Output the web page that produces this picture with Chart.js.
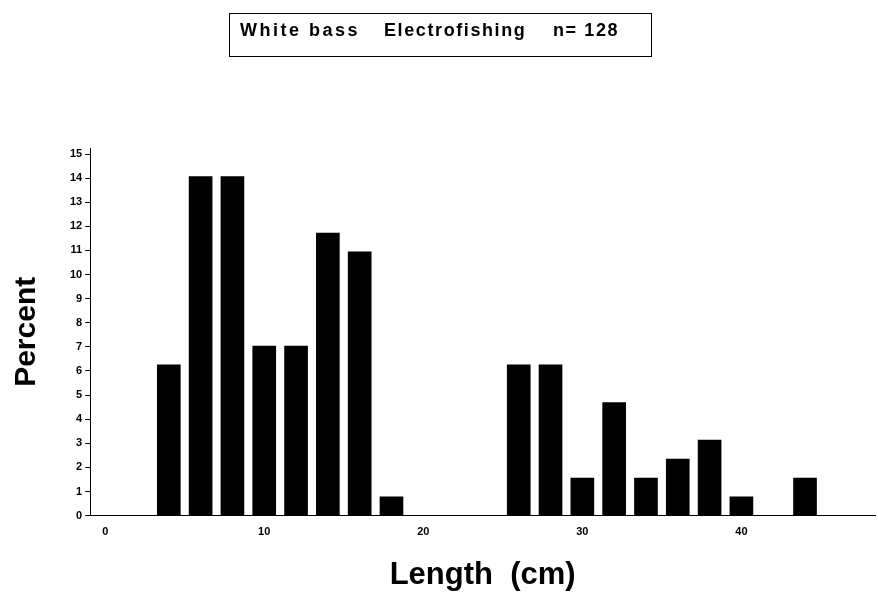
<!DOCTYPE html>
<html>
<head>
<meta charset="utf-8">
<script src="https://cdn.jsdelivr.net/npm/chart.js@4"></script>
<style>
  body { margin: 0; background: #fff; }
  #wrap { position: relative; width: 878px; height: 594px; }
  #heading {
    position: absolute; left: 229px; top: 13px; width: 421px; height: 42px;
    border: 1px solid #000; color: #000;
    font: bold 18px "Liberation Sans", Arial, sans-serif;
  }
  #heading span { position: absolute; top: 6px; white-space: nowrap; letter-spacing: 1.6px; }
</style>
</head>
<body>
<div id="wrap">
  <canvas id="lengthChart" width="878" height="594"></canvas>
  <div id="heading"><span style="left:10px; letter-spacing:2.5px">White bass</span><span style="left:154px">Electrofishing</span><span style="left:323px">n= 128</span></div>
</div>
<script>
// length classes (cm) and percent of catch
const lengths = [4, 6, 8, 10, 12, 14, 16, 18, 20, 22, 24, 26, 28, 30, 32, 34, 36, 38, 40, 42, 44];
const percents = [6.25, 14.06, 14.06, 7.03, 7.03, 11.72, 10.94, 0.78, 0, 0, 0, 6.25, 6.25, 1.56, 4.69, 1.56, 2.34, 3.13, 0.78, 0, 1.56];
const xTicks = [0, 10, 20, 30, 40];

const font = "'Liberation Sans', Arial, sans-serif";

const ctx = document.getElementById('lengthChart').getContext('2d');
new Chart(ctx, {
    type: 'bar',
    data: {
        datasets: [{
            data: lengths.map((x, i) => ({ x: x, y: percents[i] })),
            backgroundColor: '#000',
            borderWidth: 0,
            barThickness: 23
        }]
    },
    options: {
        responsive: false,
        animation: false,
        layout: { padding: { top: 148, right: 3, left: 2, bottom: 0 } },
        plugins: { legend: { display: false }, tooltip: { enabled: false } },
        scales: {
            x: {
                type: 'linear',
                offset: false,
                min: -0.94,
                max: 48.4,
                afterBuildTicks: scale => { scale.ticks = xTicks.map(v => ({ value: v })); },
                grid: { display: false },
                border: { display: true, color: '#000', width: 1 },
                ticks: { color: '#000', padding: 2, font: { family: font, size: 11, weight: 'bold' } },
                title: {
                    display: true, text: 'Length  (cm)', color: '#000',
                    font: { family: font, size: 31, weight: 'bold' }, padding: { top: 16, bottom: 0 }
                }
            },
            y: {
                min: 0,
                max: 15.25,
                afterBuildTicks: scale => {
                    const t = [];
                    for (let v = 0; v <= 15; v += 0.5) t.push({ value: v });
                    scale.ticks = t;
                },
                grid: { drawOnChartArea: false, tickLength: 5, color: '#000' },
                border: { display: true, color: '#000', width: 1 },
                ticks: {
                    color: '#000', padding: 3,
                    font: { family: font, size: 11, weight: 'bold' },
                    callback: v => Number.isInteger(v) ? v : ''
                },
                title: {
                    display: true, text: 'Percent', color: '#000',
                    font: { family: font, size: 30, weight: 'bold' }, padding: { top: 7, bottom: 22 }
                }
            }
        }
    }
});
</script>
</body>
</html>
